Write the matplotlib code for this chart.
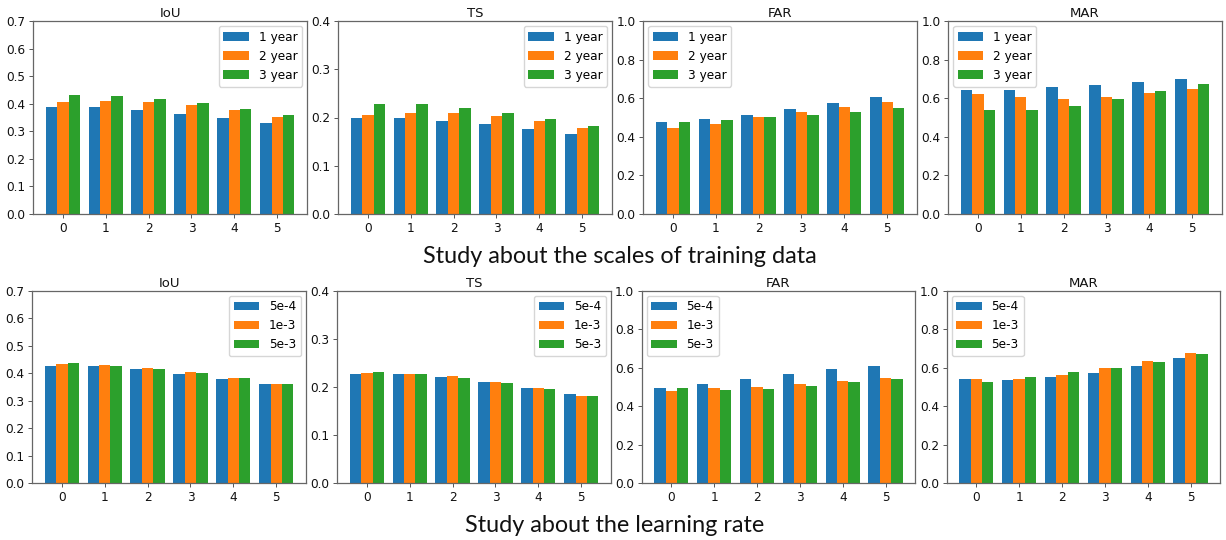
import numpy as np
import matplotlib
matplotlib.use("Agg")
import matplotlib.pyplot as plt

# ---------------- data ----------------
groups = [0, 1, 2, 3, 4, 5]
metrics = ["IoU", "TS", "FAR", "MAR"]

scale_labels = ["1 year", "2 year", "3 year"]
scale_iou = [
    [0.389, 0.387, 0.376, 0.362, 0.347, 0.329],
    [0.407, 0.411, 0.405, 0.394, 0.376, 0.352],
    [0.430, 0.429, 0.417, 0.401, 0.382, 0.360],
]
scale_ts = [
    [0.199, 0.199, 0.193, 0.186, 0.176, 0.165],
    [0.206, 0.209, 0.210, 0.204, 0.193, 0.179],
    [0.229, 0.228, 0.220, 0.209, 0.197, 0.182],
]
scale_far = [
    [0.477, 0.492, 0.513, 0.544, 0.577, 0.604],
    [0.444, 0.468, 0.501, 0.528, 0.556, 0.580],
    [0.475, 0.489, 0.501, 0.511, 0.530, 0.547],
]
scale_mar = [
    [0.642, 0.641, 0.656, 0.667, 0.682, 0.698],
    [0.620, 0.604, 0.598, 0.606, 0.625, 0.648],
    [0.539, 0.539, 0.561, 0.596, 0.636, 0.672],
]

lr_labels = ["5e-4", "1e-3", "5e-3"]
lr_iou = [
    [0.426, 0.425, 0.414, 0.398, 0.380, 0.361],
    [0.432, 0.430, 0.419, 0.403, 0.383, 0.361],
    [0.436, 0.428, 0.414, 0.400, 0.381, 0.361],
]
lr_ts = [
    [0.227, 0.226, 0.221, 0.211, 0.198, 0.185],
    [0.229, 0.228, 0.222, 0.211, 0.198, 0.182],
    [0.231, 0.226, 0.218, 0.209, 0.196, 0.182],
]
lr_far = [
    [0.494, 0.516, 0.542, 0.566, 0.592, 0.610],
    [0.477, 0.494, 0.501, 0.513, 0.532, 0.549],
    [0.496, 0.482, 0.489, 0.504, 0.527, 0.542],
]
lr_mar = [
    [0.539, 0.535, 0.551, 0.573, 0.608, 0.648],
    [0.541, 0.541, 0.563, 0.598, 0.637, 0.675],
    [0.525, 0.553, 0.577, 0.601, 0.632, 0.670],
]

ylims = {"IoU": 0.7, "TS": 0.4, "FAR": 1.0, "MAR": 1.0}
ysteps = {"IoU": 0.1, "TS": 0.1, "FAR": 0.2, "MAR": 0.2}
legend_locs = {"IoU": "upper right", "TS": "upper right", "FAR": "upper left", "MAR": "upper left"}

section_titles = ["Study about the scales of training data", "Study about the learning rate"]

colors = ["#1f77b4", "#ff7f0e", "#2ca02c"]

# ---------------- layout ----------------
W, H = 1226, 540
fig = plt.figure(figsize=(W / 100, H / 100), dpi=100)

plt.rcParams["axes.edgecolor"] = "#666666"

lefts_top = [33.3, 338.3, 643.3, 948.3]
lefts_bot = [32.3, 337.3, 641.7, 946.7]
ax_w = 273.5
rows = [
    (lefts_top, 21.0, 214.0, [scale_iou, scale_ts, scale_far, scale_mar], scale_labels),
    (lefts_bot, 290.7, 483.3, [lr_iou, lr_ts, lr_far, lr_mar], lr_labels),
]

x = np.arange(len(groups))
bw = 0.8 / 3

for lefts, top, bottom, datasets, labels in rows:
    for left, metric, data in zip(lefts, metrics, datasets):
        ax = fig.add_axes([left / W, 1 - bottom / H, ax_w / W, (bottom - top) / H])
        for i, (series, lab) in enumerate(zip(data, labels)):
            ax.bar(x + (i - 1) * bw, series, bw, color=colors[i], label=lab)
        ax.set_ylim(0, ylims[metric])
        ax.set_yticks(np.round(np.arange(0, ylims[metric] + 1e-9, ysteps[metric]), 2))
        ax.set_xticks(x)
        ax.set_xticklabels([str(g) for g in groups])
        ax.tick_params(labelsize=8.7, length=3, width=0.7, pad=2.5,
                       colors="#555555", labelcolor="#111111")
        for sp in ax.spines.values():
            sp.set_linewidth(0.9)
        ax.set_title(metric, fontsize=9.5, pad=3, color="#111111")
        ax.legend(loc=legend_locs[metric], fontsize=8.7, borderaxespad=0.4,
                  handlelength=2.1)

# ---------------- section titles ----------------
specs = [(section_titles[0], 619.5, 263.0, 395.0), (section_titles[1], 615.0, 532.0, 300.0)]
fig.canvas.draw()
renderer = fig.canvas.get_renderer()
for txt, cx, base, target_w in specs:
    t = fig.text(cx / W, 1 - base / H, txt, ha="center", va="baseline",
                 fontsize=20, family=["Lato", "DejaVu Sans"], color="#111111")
    w = t.get_window_extent(renderer=renderer).width
    t.set_fontsize(20 * target_w / w)

fig.savefig("out.png", dpi=100)
